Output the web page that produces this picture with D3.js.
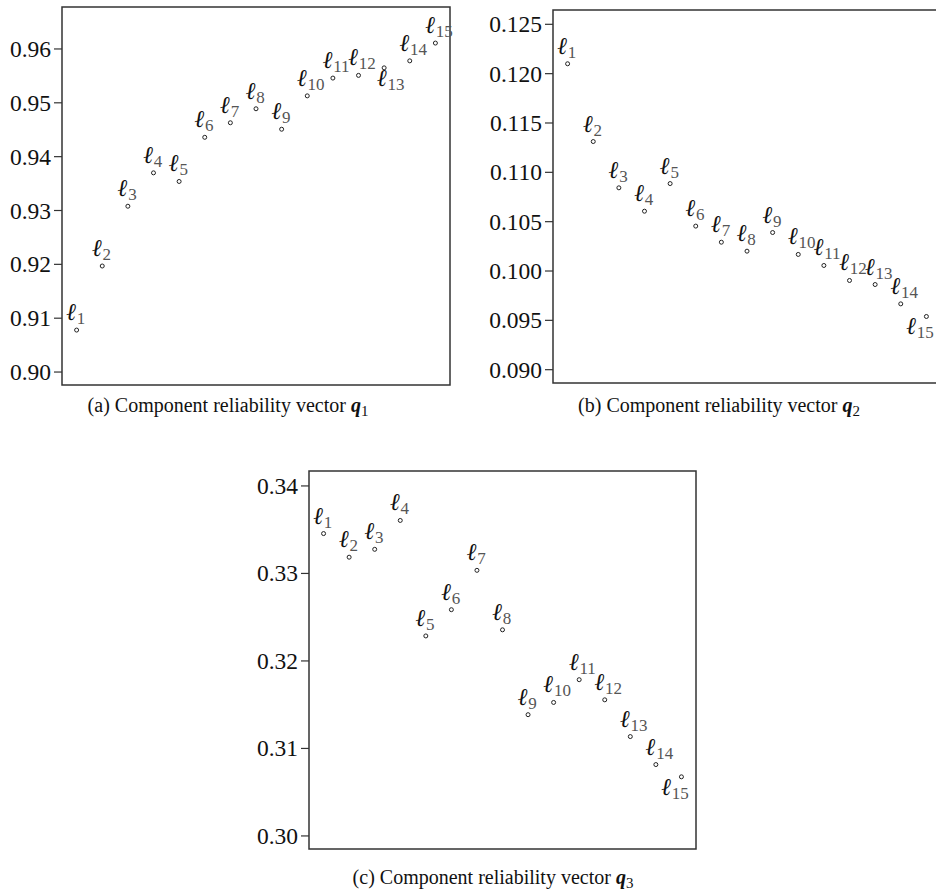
<!DOCTYPE html>
<html>
<head>
<meta charset="utf-8">
<script src="https://cdn.jsdelivr.net/npm/d3@7"></script>
<style>
  body { margin: 0; background: #fff; }
  svg { display: block; }
</style>
</head>
<body>
<script>
// component indices (l1 .. l15)
var ids = d3.range(1, 16);

// component reliability values
var q1 = [0.9077, 0.9196, 0.9307, 0.9369, 0.9353, 0.9435, 0.9462, 0.9488,
          0.9450, 0.9512, 0.9545, 0.9550, 0.9564, 0.9577, 0.9610];
var q2 = [0.12095, 0.11307, 0.10838, 0.10601, 0.10881, 0.10450, 0.10287, 0.10196,
          0.10385, 0.10163, 0.10051, 0.09899, 0.09858, 0.09662, 0.09534];
var q3 = [0.3345, 0.3318, 0.3327, 0.3360, 0.3228, 0.3258, 0.3303, 0.3235,
          0.3138, 0.3152, 0.3178, 0.3155, 0.3113, 0.3081, 0.3067];

// y tick values
var ticks1 = [0.90, 0.91, 0.92, 0.93, 0.94, 0.95, 0.96];
var ticks2 = [0.090, 0.095, 0.100, 0.105, 0.110, 0.115, 0.120, 0.125];
var ticks3 = [0.30, 0.31, 0.32, 0.33, 0.34];

var captions = ["(a) Component reliability vector ", "(b) Component reliability vector ", "(c) Component reliability vector "];
var capSubs = ["1", "2", "3"];

var svg = d3.select("body")
  .append("svg")
    .attr("width", 936)
    .attr("height", 894);

// panel layout
var panels = [
  {vals: q1, ticks: ticks1, fmt: ".2f", box: [62, 7, 450, 385], ydom: [0.8975, 0.9677], below: [13], cap: [228, 412]},
  {vals: q2, ticks: ticks2, fmt: ".3f", box: [553, 10, 941, 383], ydom: [0.0886, 0.1264], below: [15], cap: [719, 412]},
  {vals: q3, ticks: ticks3, fmt: ".2f", box: [309, 471, 696, 849], ydom: [0.29845, 0.34165], below: [15], cap: [493, 884]}
];

var serif = "'Liberation Serif', 'Times New Roman', 'DejaVu Serif', serif";

panels.forEach(function(p, k) {
  var x = d3.scaleLinear()
    .domain([0.43, 15.57])
    .range([p.box[0], p.box[2]]);
  var y = d3.scaleLinear()
    .domain(p.ydom)
    .range([p.box[3], p.box[1]]);

  var g = svg.append("g");

  // y axis
  var ax = g.append("g")
    .attr("transform", "translate(" + p.box[0] + ",0)")
    .call(d3.axisLeft(y)
      .tickValues(p.ticks)
      .tickFormat(d3.format(p.fmt))
      .tickSize(8)
      .tickPadding(3));
  ax.select(".domain").remove();
  ax.selectAll("line").attr("stroke", "#333").attr("stroke-width", 1.2);
  ax.selectAll("text")
    .attr("fill", "#111")
    .style("font-family", serif)
    .style("font-size", "23.5px")
    .attr("dy", "0.34em");

  // frame
  g.append("rect")
    .attr("x", p.box[0])
    .attr("y", p.box[1])
    .attr("width", p.box[2] - p.box[0])
    .attr("height", p.box[3] - p.box[1])
    .attr("fill", "none")
    .attr("stroke", "#333")
    .attr("stroke-width", 1.5);

  // points
  g.selectAll("circle")
    .data(p.vals)
    .enter()
    .append("circle")
      .attr("cx", function(d, i) { return x(ids[i]); })
      .attr("cy", function(d) { return y(d); })
      .attr("r", 2)
      .attr("fill", "none")
      .attr("stroke", "#222")
      .attr("stroke-width", 1);

  // labels
  var lab = g.selectAll("text.lab")
    .data(p.vals)
    .enter()
    .append("text")
      .attr("class", "lab")
      .attr("x", function(d, i) {
        var below = p.below.indexOf(ids[i]) >= 0;
        if (below) return x(ids[i]) + (i == 14 ? -20 : -7);
        return x(ids[i]) - 10;
      })
      .attr("y", function(d, i) {
        var below = p.below.indexOf(ids[i]) >= 0;
        return y(d) + (below ? 18 : -10);
      })
      .style("font-family", serif);
  lab.append("tspan")
    .text("\u2113")
    .style("font-weight", "bold")
    .style("font-style", "italic")
    .style("font-size", "24px")
    .attr("fill", "#111");
  lab.append("tspan")
    .text(function(d, i) { return ids[i]; })
    .attr("dy", 4)
    .style("font-size", "17px")
    .attr("fill", "#555");

  // caption
  var cap = svg.append("text")
    .attr("x", p.cap[0])
    .attr("y", p.cap[1])
    .attr("text-anchor", "middle")
    .style("font-family", serif)
    .style("font-size", "20px")
    .attr("fill", "#111");
  cap.append("tspan").text(captions[k]);
  cap.append("tspan").text("q")
    .style("font-weight", "bold")
    .style("font-style", "italic");
  cap.append("tspan").text(capSubs[k])
    .attr("dy", 4)
    .style("font-size", "15px");
});
</script>
</body>
</html>
